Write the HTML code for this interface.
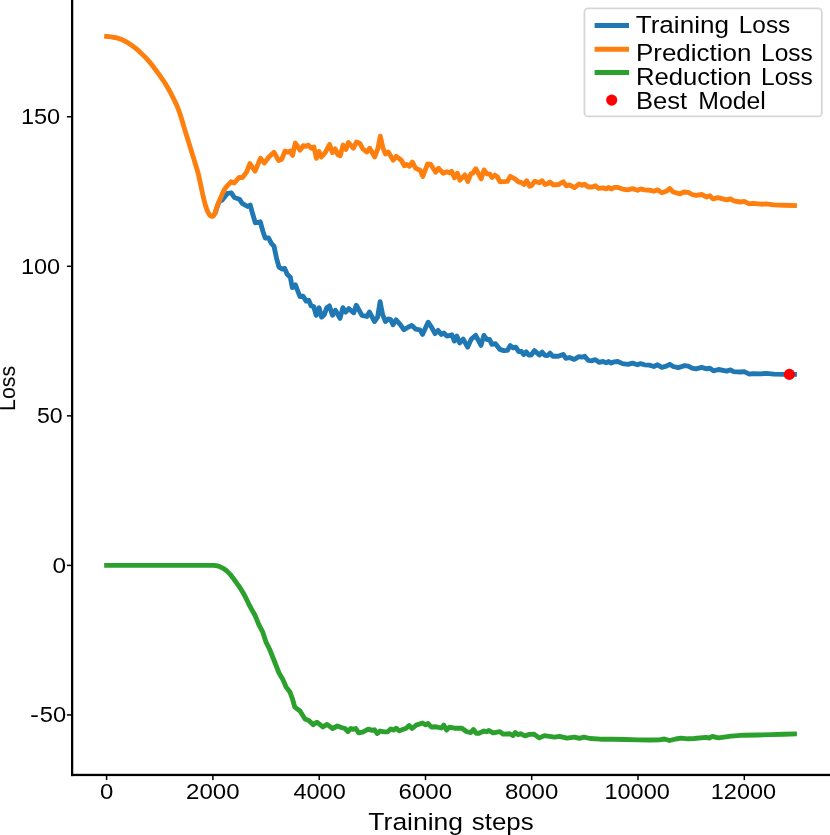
<!DOCTYPE html>
<html><head><meta charset="utf-8"><title>Loss curves</title>
<style>html,body{margin:0;padding:0;background:#fff;}body{width:830px;height:835px;overflow:hidden;font-family:"Liberation Sans",sans-serif;}svg{display:block}</style>
</head><body>
<svg width="830" height="835" viewBox="0 0 830 835">
<rect width="830" height="835" fill="#fff"/>
<path d="M214.5 214.4 L215.0 213.2 L215.5 211.9 L216.0 210.5 L216.5 209.0 L217.0 207.4 L217.5 205.9 L218.0 204.6 L218.5 203.5 L219.0 202.5 L219.5 201.5 L220.0 200.6 L220.5 199.7 L221.0 198.8 L221.5 197.9 L222.0 200.3 L227.6 193.3 L231.3 192.9 L234.4 197.5 L239.4 199.2 L242.2 203.4 L247.6 206.5 L250.2 205.0 L252.6 213.6 L255.3 222.8 L260.3 221.8 L262.8 231.0 L265.2 238.0 L268.6 238.0 L271.5 243.6 L274.0 246.2 L276.5 258.1 L279.0 267.2 L281.9 269.0 L284.7 268.5 L287.2 274.3 L290.3 277.3 L292.3 287.6 L295.4 284.8 L299.9 296.5 L303.0 296.1 L306.2 301.1 L308.7 300.2 L311.2 305.9 L313.7 306.5 L316.2 315.3 L319.1 307.7 L321.6 317.1 L324.3 314.6 L326.8 307.7 L329.4 305.9 L332.5 315.3 L335.4 310.2 L340.0 318.4 L342.9 307.7 L345.6 312.1 L348.8 308.6 L353.8 312.8 L356.3 305.2 L361.9 315.3 L366.9 316.5 L369.5 312.1 L374.5 321.5 L377.6 317.1 L380.1 301.6 L382.6 314.6 L385.5 321.5 L388.2 318.9 L390.6 319.6 L393.0 324.8 L396.1 319.8 L400.5 324.8 L404.0 329.8 L408.1 327.2 L411.8 325.4 L415.6 329.1 L420.0 329.8 L422.5 334.4 L428.1 322.2 L431.2 326.6 L435.0 333.6 L438.1 330.4 L441.3 334.4 L443.8 333.1 L446.9 336.1 L451.9 334.8 L454.4 341.1 L456.9 336.1 L459.7 342.9 L463.2 339.1 L467.6 347.2 L471.3 339.1 L475.7 335.4 L481.0 345.4 L483.9 335.4 L487.0 339.6 L489.5 339.4 L491.9 344.4 L495.5 343.7 L499.9 349.4 L503.7 350.6 L507.4 350.4 L510.3 345.6 L513.1 347.9 L515.8 347.1 L518.7 351.6 L521.2 351.3 L523.7 354.6 L526.2 351.9 L528.7 355.0 L531.2 355.0 L534.4 350.6 L539.4 355.0 L542.1 352.1 L545.0 355.4 L547.5 355.6 L550.0 353.1 L552.9 356.3 L558.2 356.3 L563.2 354.4 L565.9 358.4 L569.5 357.5 L574.2 359.4 L578.9 356.6 L582.0 357.1 L584.7 356.3 L588.3 360.4 L591.8 360.8 L595.3 359.6 L599.0 362.3 L603.0 361.5 L606.2 362.7 L608.7 361.5 L611.2 363.1 L614.3 361.8 L617.8 361.5 L622.5 363.6 L628.1 364.3 L632.5 363.1 L637.5 364.8 L640.6 363.6 L644.4 364.8 L649.4 365.2 L653.8 366.5 L657.5 364.8 L661.9 367.3 L666.3 366.1 L669.7 364.3 L673.2 366.5 L678.2 367.7 L684.5 365.6 L688.3 366.1 L692.0 368.1 L696.0 368.9 L701.6 367.4 L706.7 368.9 L709.8 368.2 L713.5 370.8 L718.6 369.5 L726.7 371.1 L730.5 369.9 L733.6 371.6 L740.5 372.0 L744.2 371.6 L749.3 374.1 L753.0 373.6 L761.2 373.9 L766.2 373.3 L773.7 374.1 L783.7 374.4 L796.9 374.4" fill="none" stroke="#1f77b4" stroke-width="4.86" stroke-linecap="butt" stroke-linejoin="round"/>
<path d="M106.6 36.4 L107.6 36.5 L108.6 36.6 L109.6 36.7 L110.6 36.8 L111.6 36.9 L112.6 37.1 L113.6 37.3 L114.6 37.5 L115.6 37.7 L116.6 37.9 L117.6 38.2 L118.6 38.5 L119.6 38.8 L120.6 39.1 L121.6 39.5 L122.6 40.0 L123.6 40.4 L124.6 41.0 L125.6 41.5 L126.6 42.0 L127.6 42.6 L128.6 43.3 L129.6 43.9 L130.6 44.6 L131.6 45.3 L132.6 46.0 L133.6 46.7 L134.6 47.5 L135.6 48.2 L136.6 49.0 L137.6 49.9 L138.6 50.7 L139.6 51.7 L140.6 52.6 L141.6 53.6 L142.6 54.6 L143.6 55.6 L144.6 56.6 L145.6 57.6 L146.6 58.7 L147.6 59.7 L148.6 60.9 L149.6 62.0 L150.6 63.2 L151.6 64.5 L152.6 65.8 L153.6 67.1 L154.6 68.5 L155.6 69.8 L156.6 71.1 L157.6 72.5 L158.6 73.8 L159.6 75.2 L160.6 76.6 L161.6 78.1 L162.6 79.5 L163.6 81.0 L164.6 82.5 L165.6 84.1 L166.6 85.7 L167.6 87.4 L168.6 89.2 L169.6 91.0 L170.6 92.9 L171.6 94.8 L172.6 96.8 L173.6 98.7 L174.6 100.8 L175.6 102.9 L176.6 105.1 L177.6 107.4 L178.6 110.0 L179.6 112.8 L180.6 115.8 L181.6 119.0 L182.6 122.3 L183.6 125.8 L184.6 129.1 L185.6 132.4 L186.6 135.5 L187.6 138.7 L188.6 141.9 L189.6 145.2 L190.6 148.4 L191.6 151.7 L192.6 154.9 L193.6 158.1 L194.6 161.4 L195.6 164.7 L196.6 168.0 L197.6 171.4 L198.6 175.2 L199.6 179.8 L200.6 184.5 L201.6 189.2 L202.6 193.7 L203.6 198.0 L204.6 202.2 L205.6 205.8 L206.6 208.8 L207.6 211.4 L208.6 213.3 L209.6 215.0 L210.6 215.9 L211.6 216.4 L212.6 216.4 L213.6 215.6 L214.6 214.1 L215.6 211.4 L216.6 208.2 L217.6 205.0 L218.6 202.4 L219.6 200.1 L220.6 197.9 L221.6 195.6 L222.6 193.2 L223.6 191.1 L224.6 189.3 L225.6 187.8 L226.6 186.5 L227.2 185.9 L231.1 181.8 L234.2 183.0 L239.2 177.4 L242.4 177.6 L246.8 171.7 L249.9 163.6 L255.1 171.1 L260.5 158.3 L264.3 163.0 L268.7 157.3 L273.9 152.3 L278.7 160.5 L281.8 159.2 L285.0 151.1 L288.1 152.1 L290.0 151.1 L292.5 155.4 L295.3 143.0 L300.1 150.1 L303.3 145.7 L305.8 146.4 L308.3 145.1 L311.4 148.2 L313.9 147.0 L316.4 158.3 L318.9 151.4 L321.4 157.0 L325.2 152.6 L329.6 144.5 L332.4 152.6 L335.2 148.9 L337.7 154.5 L340.2 155.8 L343.1 145.1 L345.9 149.5 L348.4 142.6 L353.4 148.2 L356.5 142.0 L359.7 143.2 L362.8 148.9 L366.9 152.0 L369.7 148.2 L374.7 157.0 L377.8 148.9 L380.3 136.2 L382.9 147.6 L385.4 153.9 L388.2 152.0 L393.2 160.2 L396.3 156.4 L401.3 160.2 L404.4 165.8 L406.9 164.5 L409.4 166.4 L412.3 162.0 L415.7 168.3 L420.1 170.2 L422.8 176.4 L427.6 163.9 L430.7 164.5 L435.7 172.1 L438.6 168.3 L443.3 173.3 L447.0 171.7 L449.5 172.7 L451.7 171.4 L454.5 177.7 L457.4 173.3 L459.9 180.2 L464.9 174.9 L467.9 181.5 L470.8 173.9 L472.7 173.3 L475.8 168.7 L481.2 178.9 L484.0 169.9 L487.1 173.9 L489.6 173.9 L492.0 177.4 L494.9 175.1 L497.4 177.0 L499.9 181.7 L507.4 181.4 L510.3 176.4 L514.9 178.9 L518.7 182.0 L521.2 182.4 L524.1 184.5 L526.6 180.8 L529.6 186.2 L531.9 185.2 L534.6 181.4 L539.4 182.7 L542.1 180.8 L545.0 184.5 L547.5 183.9 L550.0 182.0 L553.2 184.9 L558.8 184.5 L563.2 181.7 L566.3 185.8 L569.5 184.9 L574.5 187.7 L579.2 183.9 L582.0 185.2 L584.5 184.2 L588.3 187.0 L592.4 187.0 L595.5 185.8 L598.7 188.3 L603.0 187.9 L606.2 188.9 L608.7 187.4 L611.2 189.1 L614.3 187.4 L618.1 187.4 L622.5 189.1 L627.5 189.9 L632.5 188.6 L637.5 190.2 L640.6 188.9 L644.4 189.9 L649.4 190.2 L653.8 191.2 L657.5 189.9 L661.9 192.7 L666.3 191.2 L669.7 188.6 L673.2 192.0 L680.1 193.9 L683.9 192.0 L688.3 192.4 L692.0 194.5 L696.0 195.4 L701.6 194.5 L706.7 197.0 L709.8 195.8 L712.9 198.9 L717.9 197.6 L726.7 199.9 L730.5 198.9 L733.6 200.8 L740.5 202.0 L744.2 201.4 L749.3 203.9 L753.0 203.3 L761.2 204.2 L766.2 203.9 L773.7 204.9 L783.7 205.2 L794.5 205.5" fill="none" stroke="#ff7f0e" stroke-width="4.86" stroke-linecap="square" stroke-linejoin="round"/>
<path d="M106.6 565.4 L213.2 565.4 L214.2 565.4 L215.2 565.6 L216.2 565.7 L217.2 565.9 L218.2 566.1 L219.2 566.4 L220.2 566.8 L221.2 567.3 L222.2 567.8 L223.2 568.4 L224.2 569.0 L225.2 569.7 L226.2 570.5 L227.2 571.4 L228.2 572.4 L229.2 573.4 L230.2 574.4 L231.2 575.6 L232.2 576.9 L233.2 578.2 L234.2 579.6 L235.2 581.0 L236.2 582.4 L237.2 583.8 L238.2 585.2 L239.2 586.7 L240.2 588.2 L241.2 589.7 L242.2 591.3 L243.2 593.0 L244.2 594.8 L245.2 596.6 L246.2 598.6 L247.2 600.7 L248.2 602.8 L249.1 604.8 L255.1 615.5 L258.7 624.3 L262.8 632.2 L265.9 641.8 L269.5 649.0 L274.3 661.0 L279.0 673.0 L282.6 678.9 L286.2 687.2 L289.8 691.7 L292.5 699.0 L294.8 707.1 L300.0 711.0 L305.0 719.0 L308.8 720.6 L313.2 724.8 L316.9 722.2 L322.8 726.9 L327.0 724.4 L332.6 728.5 L337.4 726.0 L341.4 727.6 L345.1 728.5 L347.9 731.6 L350.8 728.5 L353.3 729.4 L355.8 728.5 L358.7 732.9 L362.7 732.2 L368.3 729.1 L372.1 730.4 L374.6 729.8 L377.1 733.5 L380.2 731.0 L384.0 731.9 L387.7 731.9 L390.7 728.9 L393.6 730.1 L396.1 728.2 L399.3 730.8 L406.2 728.2 L409.1 725.5 L412.1 728.5 L416.2 725.1 L422.5 723.0 L425.6 724.8 L428.1 723.5 L431.2 727.0 L436.2 726.8 L441.3 728.0 L443.8 725.1 L446.6 730.1 L449.4 727.2 L454.4 728.2 L461.9 728.2 L466.3 731.5 L470.7 732.6 L473.5 729.5 L476.3 733.2 L478.9 733.2 L483.9 731.0 L486.4 731.8 L488.9 730.5 L493.0 732.9 L497.4 732.1 L499.9 731.6 L503.0 734.1 L509.9 733.8 L513.1 735.6 L515.3 732.5 L518.1 734.6 L520.6 733.8 L525.0 735.9 L529.4 734.4 L533.7 734.1 L539.4 737.9 L544.4 735.6 L549.4 736.3 L554.4 737.1 L559.4 736.3 L566.9 738.1 L574.5 737.1 L579.5 738.4 L583.9 737.1 L590.0 738.5 L600.5 739.2 L613.1 739.2 L625.6 739.5 L638.1 739.9 L650.7 740.0 L659.4 739.9 L664.4 739.0 L669.5 740.5 L675.7 739.0 L680.7 738.2 L688.3 738.8 L694.0 738.5 L706.0 737.4 L709.2 738.0 L712.3 736.5 L718.6 737.8 L731.1 736.1 L743.6 735.2 L758.7 735.0 L771.2 734.6 L783.7 734.3 L794.5 734.0" fill="none" stroke="#2ca02c" stroke-width="4.86" stroke-linecap="square" stroke-linejoin="round"/>
<circle cx="789.4" cy="374.4" r="5.6" fill="#ff0000"/>
<rect x="71.0" y="0" width="2.25" height="776.1" fill="#000"/>
<rect x="71.0" y="773.8" width="759" height="2.3" fill="#000"/>
<rect x="66.9" y="116.00" width="4.2" height="1.5" fill="#000"/>
<rect x="66.9" y="265.55" width="4.2" height="1.5" fill="#000"/>
<rect x="66.9" y="415.10" width="4.2" height="1.5" fill="#000"/>
<rect x="66.9" y="564.65" width="4.2" height="1.5" fill="#000"/>
<rect x="66.9" y="714.20" width="4.2" height="1.5" fill="#000"/>
<rect x="105.85" y="775.9" width="1.5" height="4.2" fill="#000"/>
<rect x="212.15" y="775.9" width="1.5" height="4.2" fill="#000"/>
<rect x="318.45" y="775.9" width="1.5" height="4.2" fill="#000"/>
<rect x="424.75" y="775.9" width="1.5" height="4.2" fill="#000"/>
<rect x="530.95" y="775.9" width="1.5" height="4.2" fill="#000"/>
<rect x="637.25" y="775.9" width="1.5" height="4.2" fill="#000"/>
<rect x="743.55" y="775.9" width="1.5" height="4.2" fill="#000"/>
<rect x="584.45" y="8.4" width="237.35" height="108.05" rx="3.8" ry="3.8" fill="#fff" fill-opacity="0.8" stroke="#cccccc" stroke-opacity="0.8" stroke-width="1.8"/>
<g font-family="Liberation Sans, sans-serif" fill="#000" opacity="0.999">
<text transform="translate(20.88 124.05) scale(1.1123 1.0243)" font-size="21.2">150</text>
<text transform="translate(20.88 273.60) scale(1.1123 1.0243)" font-size="21.2">100</text>
<text transform="translate(36.88 423.15) scale(1.0899 1.0243)" font-size="21.2">50</text>
<text transform="translate(52.42 572.70) scale(1.1519 1.0243)" font-size="21.2">0</text>
<text transform="translate(29.99 722.30) scale(1.2707 1.0243)" font-size="21.2">-</text>
<text transform="translate(39.85 722.30) scale(1.1174 1.0243)" font-size="21.2">50</text>
<text transform="translate(99.94 798.70) scale(1.1321 1.0243)" font-size="21.2">0</text>
<text transform="translate(186.00 798.70) scale(1.1356 1.0243)" font-size="21.2">2000</text>
<text transform="translate(293.41 798.70) scale(1.1094 1.0243)" font-size="21.2">4000</text>
<text transform="translate(398.60 798.70) scale(1.1356 1.0243)" font-size="21.2">6000</text>
<text transform="translate(504.92 798.70) scale(1.1330 1.0243)" font-size="21.2">8000</text>
<text transform="translate(604.44 798.70) scale(1.1098 1.0243)" font-size="21.2">10000</text>
<text transform="translate(710.74 798.70) scale(1.1098 1.0243)" font-size="21.2">12000</text>
<text transform="translate(368.37 829.70) scale(1.1043 0.9722)" font-size="24.0">Training</text>
<text transform="translate(471.82 829.70) scale(1.0789 0.9722)" font-size="24.0">steps</text>
<text transform="translate(635.68 32.90) scale(1.0876 0.9964)" font-size="24">Training</text>
<text transform="translate(738.75 32.90) scale(1.0171 0.9964)" font-size="24">Loss</text>
<text transform="translate(635.92 60.90) scale(1.0833 0.9964)" font-size="24">Prediction</text>
<text transform="translate(761.04 60.90) scale(1.0213 0.9964)" font-size="24">Loss</text>
<text transform="translate(635.95 84.90) scale(1.0697 0.9964)" font-size="24">Reduction</text>
<text transform="translate(761.04 84.90) scale(1.0213 0.9964)" font-size="24">Loss</text>
<text transform="translate(635.95 108.90) scale(1.0661 0.9964)" font-size="24">Best</text>
<text transform="translate(698.31 108.90) scale(1.0340 0.9964)" font-size="24">Model</text>
<text transform="translate(15.0 409.3) rotate(-90) translate(-1.71 0) scale(0.9685 0.9968)" font-size="22.1">Loss</text>
</g>
<line x1="594.6" x2="629.0" y1="25.5" y2="25.5" stroke="#1f77b4" stroke-width="4.86"/>
<line x1="594.6" x2="629.0" y1="49.2" y2="49.2" stroke="#ff7f0e" stroke-width="4.86"/>
<line x1="594.6" x2="629.0" y1="72.5" y2="72.5" stroke="#2ca02c" stroke-width="4.86"/>
<circle cx="611.7" cy="100.1" r="5.6" fill="#ff0000"/>
</svg>
</body></html>
